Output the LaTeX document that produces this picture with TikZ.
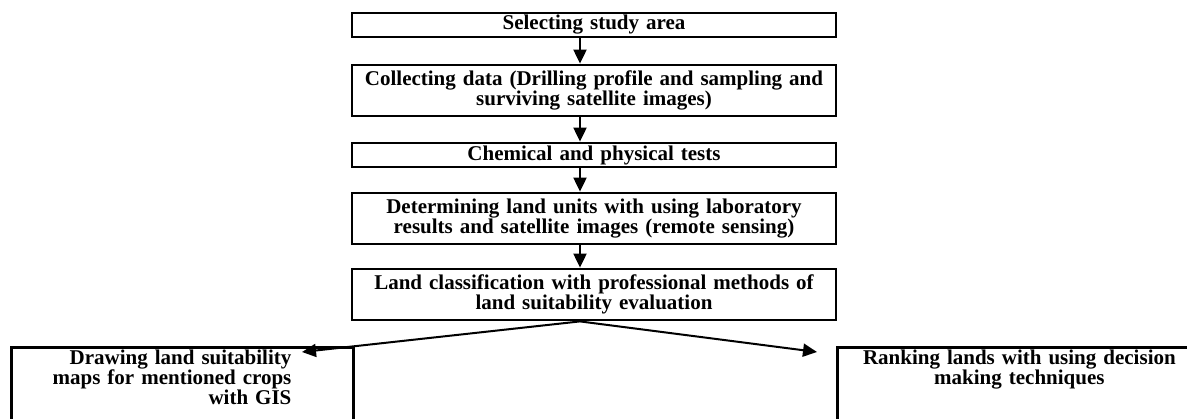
\documentclass[tikz,border=0pt]{standalone}
\usepackage{fontspec}
\setmainfont{Liberation Serif}
\usetikzlibrary{arrows.meta}

\begin{document}
\begin{tikzpicture}[x=1pt,y=-1pt,
	stage/.style={draw, line width=2.8pt, minimum width=484pt, text width=476pt,
		inner xsep=4pt, inner ysep=0pt, align=center,
		font=\bfseries\fontsize{21}{20.5}\selectfont},
	outcome/.style={draw, line width=2.8pt, anchor=north west, inner xsep=4pt,
		inner ysep=3pt, text depth=90pt, font=\bfseries\fontsize{21}{20}\selectfont},
	flow/.style={line width=2pt, -{Triangle[length=14pt,width=13pt]}}]
		
		\path[use as bounding box, clip] (0,0) rectangle (1187,418);
		
		\node[stage, minimum height=24pt] (s1) at (594,25) {Selecting study area};
		
		\node[stage, minimum height=51pt] (s2) at (594,90.5) {Collecting data (Drilling profile and sampling and\\surviving satellite images)};
		
		\node[stage, minimum height=24pt] (s3) at (594,155) {Chemical and physical tests};
		
		\node[stage, minimum height=51pt] (s4) at (594,218.5) {Determining land units with using laboratory\\results and satellite images (remote sensing)};
		
		\node[stage, minimum height=51pt] (s5) at (594,294.5) {Land classification with professional methods of\\land suitability evaluation};
		
		\node[outcome, text width=334pt, align=right] (maps) at (10,346) {Drawing land suitability\kern58pt\\maps for mentioned crops\kern58pt\\with GIS\kern58pt};
		
		\node[outcome, text width=356pt, align=center] (rank) at (836,346) {Ranking lands with using decision\\making techniques};
		
		\coordinate (mapstip) at (302,352);
		\coordinate (ranktip) at (817,352);
		
		\draw[flow] ([xshift=-14pt]s1.south) -- ([xshift=-14pt]s2.north);
		\draw[flow] ([xshift=-14pt]s2.south) -- ([xshift=-14pt]s3.north);
		\draw[flow] ([xshift=-14pt]s3.south) -- ([xshift=-14pt]s4.north);
		\draw[flow] ([xshift=-14pt]s4.south) -- ([xshift=-14pt]s5.north);
		\draw[flow] ([xshift=-14pt]s5.south) -- (mapstip);
		\draw[flow] ([xshift=-14pt]s5.south) -- (ranktip);
		
	\end{tikzpicture}
\end{document}
